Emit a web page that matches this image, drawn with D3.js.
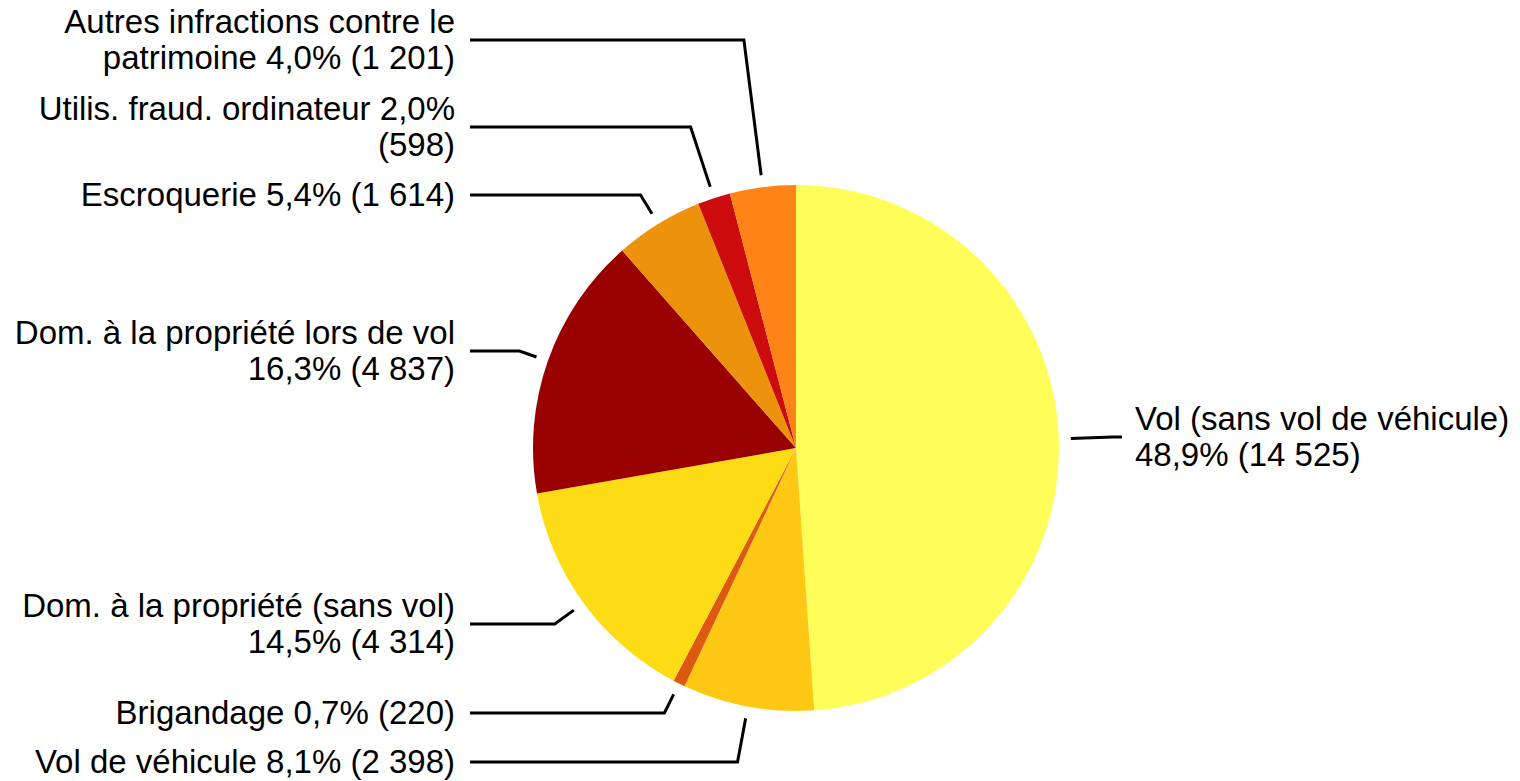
<!DOCTYPE html>
<html>
<head>
<meta charset="utf-8">
<script src="https://cdn.jsdelivr.net/npm/d3@7"></script>
<style>
  html, body { margin: 0; padding: 0; background: #ffffff; }
  svg { display: block; }
  text { font-family: "Liberation Sans", Arial, sans-serif; font-size: 33px; fill: #000; }
</style>
</head>
<body>
<script>
// Data (clockwise from 12 o'clock)
const categories = [
  "Vol (sans vol de véhicule)",
  "Vol de véhicule",
  "Brigandage",
  "Dom. à la propriété (sans vol)",
  "Dom. à la propriété lors de vol",
  "Escroquerie",
  "Utilis. fraud. ordinateur",
  "Autres infractions contre le patrimoine"
];
const counts = [14525, 2398, 220, 4314, 4837, 1614, 598, 1201];
const percentLabels = ["48,9%", "8,1%", "0,7%", "14,5%", "16,3%", "5,4%", "2,0%", "4,0%"];
const countLabels = ["14 525", "2 398", "220", "4 314", "4 837", "1 614", "598", "1 201"];
// Label text lines as displayed
const labelLines = [
  ["Vol (sans vol de véhicule)", "48,9% (14 525)"],
  ["Vol de véhicule 8,1% (2 398)"],
  ["Brigandage 0,7% (220)"],
  ["Dom. à la propriété (sans vol)", "14,5% (4 314)"],
  ["Dom. à la propriété lors de vol", "16,3% (4 837)"],
  ["Escroquerie 5,4% (1 614)"],
  ["Utilis. fraud. ordinateur 2,0%", "(598)"],
  ["Autres infractions contre le", "patrimoine 4,0% (1 201)"]
];
const colors = ["#FFFD57", "#FFC815", "#DC5A10", "#FEDC15", "#990000", "#EC920C", "#CC0C0C", "#FF8316"];

// Layout
const W = 1520, H = 781;
const cx = 796, cy = 448, R = 263;
const leaderR = R + 12;
const labelY = [437, 762, 713, 624, 351, 195, 127, 40];
const lineH = 36;
const leftTextX = 455, leftLineEnd = 470;
const rightTextX = 1135, rightLineEnd = 1122;

const svg = d3.select("body").append("svg").attr("width", W).attr("height", H);
const g = svg.append("g").attr("transform", `translate(${cx},${cy})`);

const pie = d3.pie().sort(null).value(d => d)(counts);
const arc = d3.arc().innerRadius(0).outerRadius(R);

g.selectAll("path.slice").data(pie).enter().append("path")
  .attr("class", "slice")
  .attr("d", arc)
  .attr("fill", (d, i) => colors[i]);

// Leader lines and labels
pie.forEach((d, i) => {
  const a = (d.startAngle + d.endAngle) / 2;
  const sx = Math.sin(a), sy = -Math.cos(a);
  const start = [cx + leaderR * sx, cy + leaderR * sy];
  const right = sx > 0;
  const ly = labelY[i];
  const endX = right ? rightLineEnd : leftLineEnd;
  let knee;
  const rr = (ly - cy) / sy;
  const kx = cx + rr * sx;
  if (rr > leaderR && (right ? kx < endX : kx > endX)) knee = [kx, ly];
  else knee = start;
  const pts = [start, knee, [endX, ly]];
  svg.append("path")
    .attr("d", d3.line()(pts))
    .attr("fill", "none")
    .attr("stroke", "#000")
    .attr("stroke-width", 3)
    .attr("stroke-linejoin", "miter");

  const lines = labelLines[i];
  const n = lines.length;
  const t = svg.append("text")
    .attr("text-anchor", right ? "start" : "end");
  lines.forEach((s, k) => {
    t.append("tspan")
      .attr("x", right ? rightTextX : leftTextX)
      .attr("y", ly + 11 + (k - (n - 1) / 2) * lineH)
      .text(s);
  });
});
</script>
</body>
</html>
